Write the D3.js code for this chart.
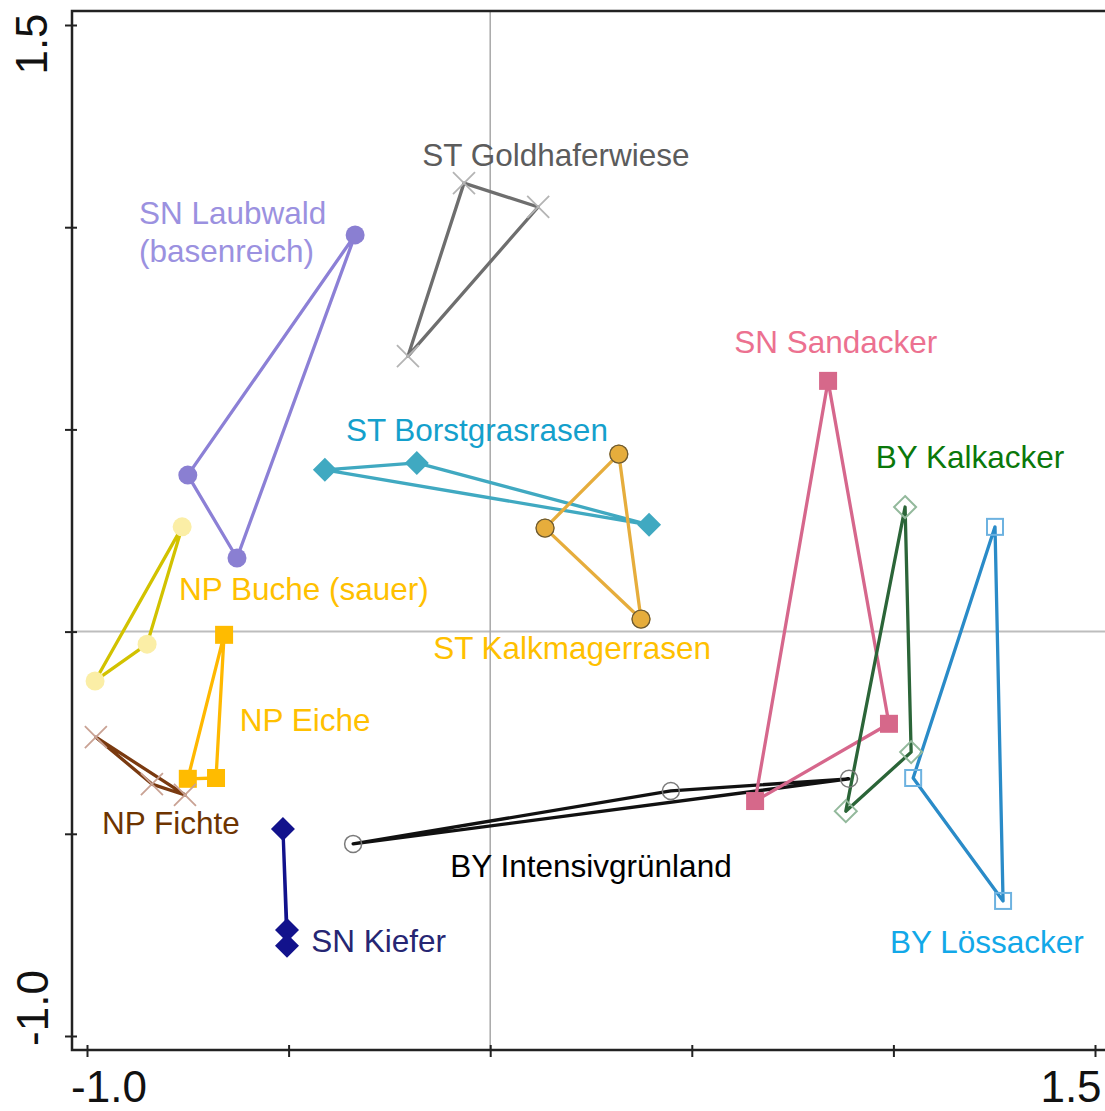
<!DOCTYPE html>
<html lang="de">
<head>
    <meta charset="UTF-8">
    <title>Ordination</title>
    <script src="https://d3js.org/d3.v7.min.js"></script>
    <style>
        body { margin: 0; background: #fff; }
        svg { display: block; font-family: "Liberation Sans", Arial, sans-serif; }
    </style>
</head>
<body>
    <div id="chart"></div>
    <script>
        // Gruppen (je drei Aufnahmen, als Dreieck verbunden)
        var groups = ["SN Laubwald (basenreich)", "ST Goldhaferwiese", "ST Borstgrasrasen", "ST Kalkmagerrasen",
            "NP Buche (sauer)", "NP Eiche", "NP Fichte", "SN Kiefer",
            "BY Intensivgrünland", "SN Sandacker", "BY Kalkacker", "BY Lössacker"];

        // Achse 1 Werte
        var axis1 = [
            [-0.335, -0.750, -0.628],
            [-0.065, 0.119, -0.204],
            [-0.410, -0.182, 0.394],
            [0.319, 0.136, 0.374],
            [-0.764, -0.851, -0.980],
            [-0.660, -0.680, -0.750],
            [-0.978, -0.839, -0.757],
            [-0.514, -0.504, -0.504],
            [-0.340, 0.448, 0.890],
            [0.838, 0.989, 0.657],
            [1.029, 1.044, 0.882],
            [1.252, 1.049, 1.272]
        ];

        // Achse 2 Werte
        var axis2 = [
            [0.981, 0.387, 0.182],
            [1.109, 1.050, 0.681],
            [0.400, 0.417, 0.264],
            [0.439, 0.256, 0.031],
            [0.259, -0.031, -0.122],
            [-0.008, -0.362, -0.364],
            [-0.261, -0.377, -0.404],
            [-0.488, -0.738, -0.777],
            [-0.525, -0.394, -0.364],
            [0.620, -0.228, -0.419],
            [0.308, -0.298, -0.444],
            [0.259, -0.362, -0.666]
        ];

        var tickValues = [-1.0, -0.5, 0, 0.5, 1.0, 1.5];
        var tickLabels = ["-1.0", "1.5"];

        // Darstellung
        var lineColor = ["#8c80d6", "#6e6e6e", "#40a9c1", "#e6ad3c", "#d2c200", "#ffb800",
            "#7a3a10", "#12128c", "#111111", "#d6678c", "#2b6538", "#2a8bc8"];
        var markerType = ["circle", "x", "diamond", "circle", "circle", "square",
            "x", "diamond", "ocircle", "square", "odiamond", "osquare"];
        var markerColor = ["#8a7fd2", "#b4b4b4", "#40a9c1", "#e6ad3c", "#fbeea6", "#ffbb00",
            "#c9a294", "#12128c", "#7a7a7a", "#d6688a", "#93b99c", "#6db2e0"];
        var textColor = ["#9b91e0", "#5c5c5c", "#14a0cc", "#ffc000", "#ffc000", "#ffc000",
            "#6e3400", "#262673", "#000000", "#ec7190", "#0a780a", "#12a8e8"];
        // Beschriftung: Position in Achseneinheiten, Ausrichtung
        var labelX = [-0.871, 0.163, -0.033, 0.203, -0.462, -0.459, -0.792, -0.444, 0.250, 0.857, 1.190, 1.232];
        var labelY = [1.035, 1.179, 0.499, -0.041, 0.105, -0.219, -0.473, -0.765, -0.580, 0.716, 0.431, -0.768];
        var labelAnchor = ["start", "middle", "middle", "middle", "middle", "middle",
            "middle", "start", "middle", "middle", "middle", "middle"];

        var width = 1105, height = 1111;

        var x = d3.scaleLinear().domain([-1, 1.5]).range([87, 1095]);
        var y = d3.scaleLinear().domain([-1, 1.5]).range([1036, 25]);

        var svg = d3.select("#chart").append("svg")
            .attr("width", width)
            .attr("height", height);

        // Nulllinien
        svg.append("line")
            .attr("x1", 72).attr("x2", width)
            .attr("y1", y(0)).attr("y2", y(0))
            .attr("stroke", "#bdbdbd").attr("stroke-width", 2);
        svg.append("line")
            .attr("x1", x(0)).attr("x2", x(0))
            .attr("y1", 11).attr("y2", 1050)
            .attr("stroke", "#a8a8a8").attr("stroke-width", 1.5);

        // Rahmen
        svg.append("rect")
            .attr("x", 72).attr("y", 11)
            .attr("width", 1100).attr("height", 1039)
            .attr("fill", "none")
            .attr("stroke", "#222").attr("stroke-width", 2.5);

        // Ticks (aussen und innen)
        [7, -5].forEach(function(s) {
            svg.append("g")
                .attr("transform", "translate(0,1050)")
                .call(d3.axisBottom(x).tickValues(tickValues).tickSize(s).tickFormat(""))
                .call(function(g) { g.select(".domain").remove(); })
                .selectAll("line").attr("stroke", "#222").attr("stroke-width", 2);
            svg.append("g")
                .attr("transform", "translate(72,0)")
                .call(d3.axisLeft(y).tickValues(tickValues).tickSize(s).tickFormat(""))
                .call(function(g) { g.select(".domain").remove(); })
                .selectAll("line").attr("stroke", "#222").attr("stroke-width", 2);
        });

        // Achsenbeschriftung (nur Endwerte)
        svg.append("text").attr("x", x(-1) + 22).attr("y", 1102)
            .attr("text-anchor", "middle").attr("font-size", 44).attr("fill", "#111")
            .text(tickLabels[0]);
        svg.append("text").attr("x", x(1.5) - 24).attr("y", 1102)
            .attr("text-anchor", "middle").attr("font-size", 44).attr("fill", "#111")
            .text(tickLabels[1]);
        svg.append("text")
            .attr("transform", "translate(47," + (y(1.5) + 19) + ") rotate(-90)")
            .attr("text-anchor", "middle").attr("font-size", 44).attr("fill", "#111")
            .text(tickLabels[1]);
        svg.append("text")
            .attr("transform", "translate(48," + (y(-1) - 28) + ") rotate(-90)")
            .attr("text-anchor", "middle").attr("font-size", 44).attr("fill", "#111")
            .text(tickLabels[0]);

        // Polygone
        var lineGen = d3.line()
            .x(function(d) { return x(d[0]); })
            .y(function(d) { return y(d[1]); })
            .curve(d3.curveLinearClosed);

        var pts = groups.map(function(g, i) {
            return axis1[i].map(function(v, j) { return [v, axis2[i][j]]; });
        });

        svg.append("g").selectAll("path")
            .data(pts)
            .enter().append("path")
            .attr("d", lineGen)
            .attr("fill", "none")
            .attr("stroke", function(d, i) { return lineColor[i]; })
            .attr("stroke-width", 3.3)
            .attr("stroke-linejoin", "round");

        // Marker
        function drawMarker(g, type, c, px, py) {
            if (type === "circle" || type === "ocircle") {
                var c1 = g.append("circle").attr("cx", px).attr("cy", py);
                if (type === "circle") {
                    c1.attr("r", 9.5).attr("fill", c);
                } else {
                    c1.attr("r", 8.5).attr("fill", "none").attr("stroke", c).attr("stroke-width", 1.5);
                }
            } else if (type === "square") {
                g.append("rect").attr("x", px - 9).attr("y", py - 9)
                    .attr("width", 18).attr("height", 18).attr("fill", c);
            } else if (type === "osquare") {
                g.append("rect").attr("x", px - 8).attr("y", py - 8)
                    .attr("width", 16).attr("height", 16)
                    .attr("fill", "none").attr("stroke", c).attr("stroke-width", 2);
            } else if (type === "diamond") {
                var s = 12;
                g.append("path")
                    .attr("d", "M" + px + "," + (py - s) + "L" + (px + s) + "," + py + "L" + px + "," + (py + s) + "L" + (px - s) + "," + py + "Z")
                    .attr("fill", c);
            } else if (type === "odiamond") {
                var s2 = 11;
                g.append("path")
                    .attr("d", "M" + px + "," + (py - s2) + "L" + (px + s2) + "," + py + "L" + px + "," + (py + s2) + "L" + (px - s2) + "," + py + "Z")
                    .attr("fill", "none").attr("stroke", c).attr("stroke-width", 2);
            } else if (type === "x") {
                var h = 11;
                g.append("path")
                    .attr("d", "M" + (px - h) + "," + (py - h) + "L" + (px + h) + "," + (py + h) + "M" + (px + h) + "," + (py - h) + "L" + (px - h) + "," + (py + h))
                    .attr("stroke", c).attr("stroke-width", 1.8).attr("fill", "none");
            }
        }

        var markers = svg.append("g");
        pts.forEach(function(p, i) {
            p.forEach(function(d) {
                drawMarker(markers, markerType[i], markerColor[i], x(d[0]), y(d[1]));
                if (i === 3) {
                    markers.append("circle").attr("cx", x(d[0])).attr("cy", y(d[1]))
                        .attr("r", 9).attr("fill", "none").attr("stroke", "#6b5a35").attr("stroke-width", 1.3);
                }
            });
        });

        // Beschriftungen
        var labels = svg.append("g").attr("font-size", 31.5);
        groups.forEach(function(name, i) {
            var t = labels.append("text")
                .attr("x", x(labelX[i]))
                .attr("y", y(labelY[i]) + 11)
                .attr("text-anchor", labelAnchor[i])
                .attr("fill", textColor[i]);
            if (i === 0) {
                t.append("tspan").attr("x", x(labelX[i])).text("SN Laubwald");
                t.append("tspan").attr("x", x(labelX[i])).attr("dy", 38).text("(basenreich)");
            } else {
                t.text(name);
            }
        });
    </script>
</body>
</html>
